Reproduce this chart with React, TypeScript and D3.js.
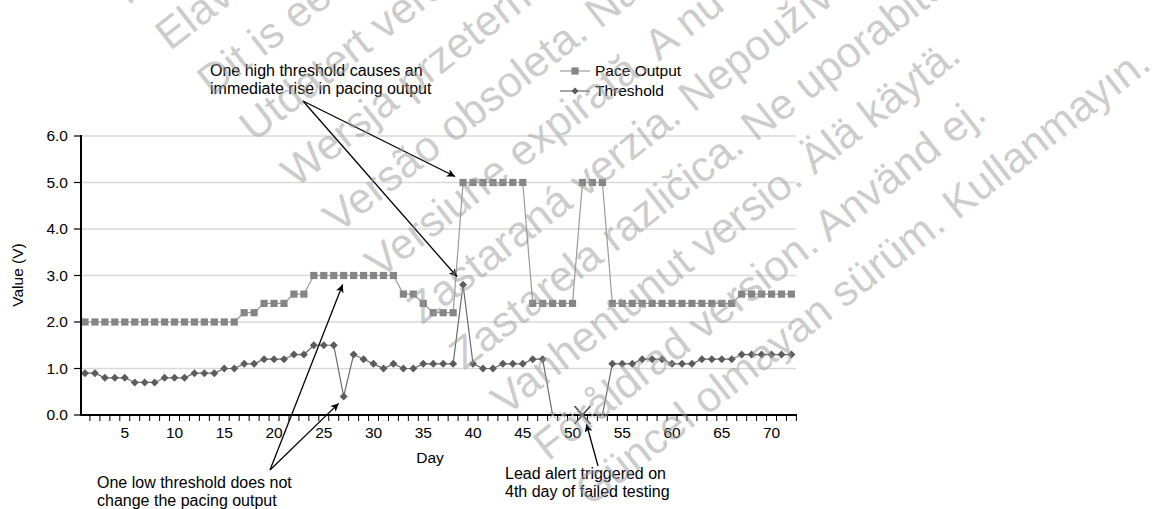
import React from "react";
import * as d3 from "d3";

const days: number[] = [
  1, 2, 3, 4, 5, 6, 7, 8, 9, 10, 11, 12, 13, 14, 15, 16, 17, 18, 19, 20, 21, 22, 23, 24,
  25, 26, 27, 28, 29, 30, 31, 32, 33, 34, 35, 36, 37, 38, 39, 40, 41, 42, 43, 44, 45, 46, 47, 48,
  49, 50, 51, 52, 53, 54, 55, 56, 57, 58, 59, 60, 61, 62, 63, 64, 65, 66, 67, 68, 69, 70, 71, 72,
];

const paceOutput: number[] = [
  2.0, 2.0, 2.0, 2.0, 2.0, 2.0, 2.0, 2.0, 2.0, 2.0, 2.0, 2.0, 2.0, 2.0, 2.0, 2.0,
  2.2, 2.2, 2.4, 2.4, 2.4, 2.6, 2.6,
  3.0, 3.0, 3.0, 3.0, 3.0, 3.0, 3.0, 3.0, 3.0,
  2.6, 2.6, 2.4, 2.2, 2.2, 2.2,
  5.0, 5.0, 5.0, 5.0, 5.0, 5.0, 5.0,
  2.4, 2.4, 2.4, 2.4, 2.4,
  5.0, 5.0, 5.0,
  2.4, 2.4, 2.4, 2.4, 2.4, 2.4, 2.4, 2.4, 2.4, 2.4, 2.4, 2.4, 2.4,
  2.6, 2.6, 2.6, 2.6, 2.6, 2.6,
];

const threshold: number[] = [
  0.9, 0.9, 0.8, 0.8, 0.8, 0.7, 0.7, 0.7, 0.8, 0.8, 0.8, 0.9, 0.9, 0.9, 1.0, 1.0,
  1.1, 1.1, 1.2, 1.2, 1.2, 1.3, 1.3, 1.5, 1.5, 1.5, 0.4, 1.3, 1.2, 1.1, 1.0, 1.1,
  1.0, 1.0, 1.1, 1.1, 1.1, 1.1, 2.8, 1.1, 1.0, 1.0, 1.1, 1.1, 1.1, 1.2, 1.2,
  0, 0, 0, 0, 0, 0,
  1.1, 1.1, 1.1, 1.2, 1.2, 1.2, 1.1, 1.1, 1.1, 1.2, 1.2, 1.2, 1.2,
  1.3, 1.3, 1.3, 1.3, 1.3, 1.3,
];

// days on which the threshold test failed (plotted at 0)
const failedDays: number[] = [48, 49, 50, 51, 52, 53];
const leadAlertDay = 51;

const yTicks: number[] = [0, 1, 2, 3, 4, 5, 6];
const xTickLabels: number[] = [5, 10, 15, 20, 25, 30, 35, 40, 45, 50, 55, 60, 65, 70];

const seriesNames = ["Pace Output", "Threshold"];

const watermark: string[] = [
  "Pasenusi versija. Nenaudoti.",
  "Elavult verzió. Ne használja!",
  "Dit is een verouderde versie. Niet gebruiken.",
  "Utdatert versjon. Skal ikke brukes.",
  "Wersja przeterminowana. Nie używać.",
  "Versão obsoleta. Não utilizar.",
  "Versiune expirată. A nu se utiliza.",
  "Zastaraná verzia. Nepoužívať.",
  "Zastarela različica. Ne uporabite.",
  "Vanhentunut versio. Älä käytä.",
  "Föråldrad version. Använd ej.",
  "Güncel olmayan sürüm. Kullanmayın.",
];

const W = 1163;
const H = 509;
const FONT = "'Liberation Sans', Arial, Helvetica, sans-serif";
const FS = 15.5;

export default function App() {
  const x = d3.scaleBand<number>().domain(days).range([80, 796.4]).padding(0);
  const cx = (d: number) => (x(d) as number) + x.bandwidth() / 2;
  const y = d3.scaleLinear().domain([0, 6]).range([415, 136]);

  const paceData = days.map((d, i) => ({ d, v: paceOutput[i] }));
  const thrData = days.map((d, i) => ({ d, v: threshold[i] }));

  const line = d3
    .line<{ d: number; v: number }>()
    .x((p) => cx(p.d))
    .y((p) => y(p.v));

  const paceColor = "#858585";
  const paceLine = "#9a9a9a";
  const thrColor = "#5c5c5c";
  const thrLine = "#6a6a6a";

  const diamond = (px: number, py: number, r: number) =>
    `M${px},${py - r}L${px + r},${py}L${px},${py + r}L${px - r},${py}Z`;

  const isFailed = (d: number) => failedDays.includes(d);

  // annotation anchors derived from data positions
  const hiIdx = 38; // day 39
  const loIdx = 26; // day 27
  const a1Start: [number, number] = [303, 101];
  const a2Start: [number, number] = [270, 470];
  const arrows: [number, number, number, number][] = [
    [a1Start[0], a1Start[1], cx(days[hiIdx]) - 8, y(paceOutput[hiIdx]) - 6],
    [a1Start[0], a1Start[1], cx(days[hiIdx]) - 6, y(threshold[hiIdx]) - 8],
    [a2Start[0], a2Start[1], cx(days[loIdx]) - 1, y(paceOutput[loIdx]) + 9],
    [a2Start[0], a2Start[1], cx(days[loIdx]) - 5, y(threshold[loIdx]) + 7],
    [598, 466, cx(leadAlertDay) + 4, 424],
  ];

  const ax = cx(leadAlertDay);
  const ay = y(0);

  return (
    <svg
      width={W}
      height={H}
      style={{ position: "absolute", left: 0, top: 0, display: "block", background: "#fff" }}
      fontFamily={FONT}
    >
      <defs>
        <marker
          id="ah"
          viewBox="0 0 10 10"
          refX="10"
          refY="5"
          markerWidth="11"
          markerHeight="8"
          markerUnits="userSpaceOnUse"
          orient="auto"
        >
          <path d="M0,0L10,5L0,10L2.5,5Z" fill="#000" />
        </marker>
      </defs>
      <rect x={0} y={0} width={W} height={H} fill="#fff" />

      {/* gridlines */}
      {yTicks
        .filter((t) => t > 0)
        .map((t) => (
          <line key={"g" + t} x1={81} x2={796} y1={y(t)} y2={y(t)} stroke="#d9d9d9" strokeWidth={1.5} />
        ))}

      {/* series lines */}
      <path d={line(paceData) || ""} fill="none" stroke={paceLine} strokeWidth={1.2} />
      <path d={line(thrData) || ""} fill="none" stroke={thrLine} strokeWidth={1.2} />

      {/* pace markers */}
      {paceData.map((p) => (
        <rect key={"p" + p.d} x={cx(p.d) - 3.6} y={y(p.v) - 3.6} width={7.2} height={7.2} fill={paceColor} />
      ))}

      {/* threshold markers */}
      {thrData.map((p) =>
        isFailed(p.d) ? null : <path key={"t" + p.d} d={diamond(cx(p.d), y(p.v), 4)} fill={thrColor} />
      )}

      {/* axes */}
      <line x1={81} x2={81} y1={135} y2={416} stroke="#000" strokeWidth={2} />
      {yTicks.map((t) => (
        <g key={"yt" + t}>
          <line x1={74} x2={81} y1={y(t)} y2={y(t)} stroke="#000" strokeWidth={1.2} />
          <text x={68} y={y(t)} dy="0.35em" textAnchor="end" fontSize={FS} fill="#000">
            {t.toFixed(1)}
          </text>
        </g>
      ))}
      <line x1={80} x2={797} y1={415} y2={415} stroke="#000" strokeWidth={2.2} />
      {days.map((d) => (
        <line
          key={"xt" + d}
          x1={(x(d) as number) + x.bandwidth()}
          x2={(x(d) as number) + x.bandwidth()}
          y1={415}
          y2={421}
          stroke="#000"
          strokeWidth={1}
        />
      ))}
      {xTickLabels.map((d) => (
        <text key={"xl" + d} x={cx(d)} y={433} dy="0.35em" textAnchor="middle" fontSize={FS} fill="#000">
          {d}
        </text>
      ))}

      {/* failed test markers at 0 */}
      {failedDays.map((d) => (
        <path
          key={"f" + d}
          d={`M${cx(d) - 3},${y(0) - 3}L${cx(d) + 3},${y(0) + 3}M${cx(d) - 3},${y(0) + 3}L${cx(d) + 3},${y(0) - 3}`}
          stroke="#aaaaaa"
          strokeWidth={1}
        />
      ))}
      {/* lead alert X */}
      <path
        d={`M${ax - 8},${ay - 9}L${ax + 8},${ay + 9}M${ax - 8},${ay + 9}L${ax + 8},${ay - 9}`}
        stroke="#4a4a4a"
        strokeWidth={1.6}
      />

      {/* axis titles */}
      <text x={430} y={458} dy="0.35em" textAnchor="middle" fontSize={FS} fill="#000">
        Day
      </text>
      <text
        transform="translate(18,275) rotate(-90)"
        textAnchor="middle"
        dy="0.35em"
        fontSize={FS}
        fill="#000"
      >
        Value (V)
      </text>

      {/* legend */}
      <g>
        <line x1={560} x2={590} y1={71} y2={71} stroke={paceLine} strokeWidth={1.2} />
        <rect x={575 - 3.6} y={71 - 3.6} width={7.2} height={7.2} fill={paceColor} />
        <text x={595} y={71} dy="0.35em" fontSize={FS} fill="#000">
          {seriesNames[0]}
        </text>
        <line x1={560} x2={590} y1={91} y2={91} stroke={thrLine} strokeWidth={1.2} />
        <path d={diamond(575, 91, 3.5)} fill={thrColor} />
        <text x={595} y={91} dy="0.35em" fontSize={FS} fill="#000">
          {seriesNames[1]}
        </text>
      </g>

      {/* annotations */}
      <text x={210} y={70} dy="0.35em" fontSize={16} fill="#000">
        One high threshold causes an
      </text>
      <text x={210} y={88} dy="0.35em" fontSize={16} fill="#000">
        immediate rise in pacing output
      </text>
      <text x={97} y={482} dy="0.35em" fontSize={16} fill="#000">
        One low threshold does not
      </text>
      <text x={97} y={500} dy="0.35em" fontSize={16} fill="#000">
        change the pacing output
      </text>
      <text x={505} y={473} dy="0.35em" fontSize={16} fill="#000">
        Lead alert triggered on
      </text>
      <text x={505} y={491} dy="0.35em" fontSize={16} fill="#000">
        4th day of failed testing
      </text>
      {arrows.map((a, i) => (
        <line key={"ar" + i} x1={a[0]} y1={a[1]} x2={a[2]} y2={a[3]} stroke="#000" strokeWidth={1.3} markerEnd="url(#ah)" />
      ))}

      {/* watermark */}
      <g fill="#9a9a9a" fillOpacity={0.5} fontSize={43}>
        {watermark.map((t, i) => (
          <text key={"w" + i} transform={`translate(${128 + 42 * i},${6 + 45.6 * i}) rotate(-38)`}>
            {t}
          </text>
        ))}
      </g>
    </svg>
  );
}
